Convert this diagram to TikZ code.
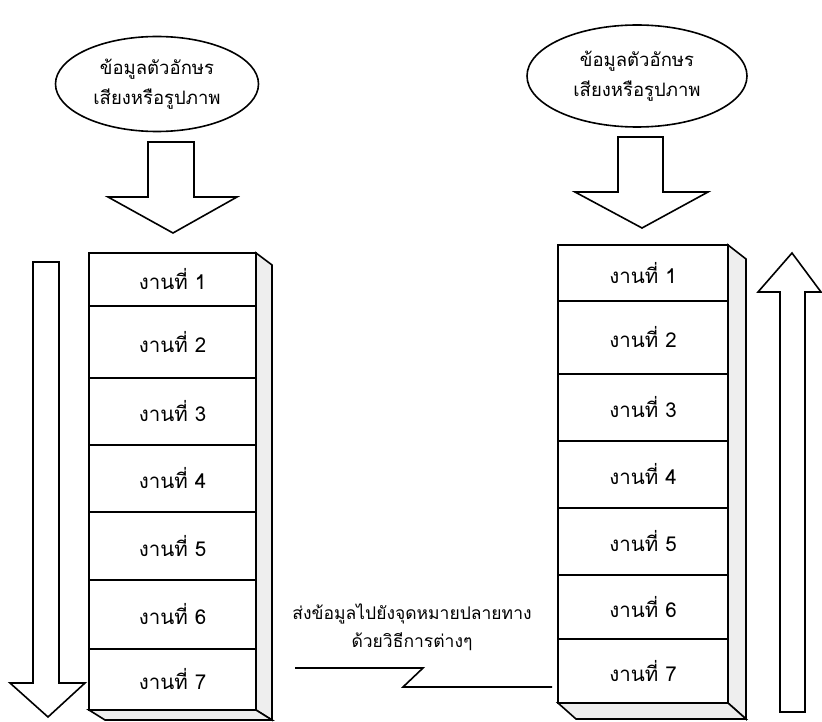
\documentclass[tikz,border=0pt]{standalone}
\usepackage{fontspec}
\newfontfamily\thaifont[Script=Thai]{Loma}
\usetikzlibrary{shapes.geometric}

\tikzset{
  outline/.style={draw=black, line width=1.6pt, line join=miter},
  bubble/.style={ellipse, outline, fill=white, align=center, inner sep=0pt,
                 font=\thaifont\fontsize{18.5}{30}\selectfont},
  cell/.style={rectangle, outline, fill=white, inner sep=0pt,
               font=\thaifont\fontsize{20.5}{22}\selectfont},
  face/.style={outline, fill=gray!13},
  blockarrow/.style={outline, fill=white},
  caption/.style={align=center, font=\thaifont\fontsize{17.5}{28}\selectfont},
  link/.style={draw=black, line width=1.6pt}
}

\begin{document}
\begin{tikzpicture}[x=1pt, y=-1pt]
  \useasboundingbox (0,0) rectangle (822,722);

  % data sources
  \node[bubble, minimum width=203pt, minimum height=95pt] (srcL) at (157,84)
    {ข้อมูลตัวอักษร\\เสียงหรือรูปภาพ};
  \node[bubble, minimum width=220pt, minimum height=102pt] (srcR) at (637,76)
    {ข้อมูลตัวอักษร\\เสียงหรือรูปภาพ};

  % block arrows feeding each stack
  \draw[blockarrow] (148,142) -- (194,142) -- (194,197) -- (237,197) -- (173,233)
    -- (108,197) -- (148,197) -- cycle;
  \draw[blockarrow] (618,137) -- (663,137) -- (663,192) -- (708,192) -- (642,228)
    -- (575,192) -- (618,192) -- cycle;

  % left stack: side and bottom faces
  \draw[face] (256,253) -- (272,265) -- (272,720) -- (256,710) -- cycle;
  \draw[face] (89,710) -- (256,710) -- (272,720) -- (105,720) -- cycle;
  % left stack: layers
  \foreach \i/\a/\b in {1/253/306, 2/306/378, 3/378/445, 4/445/512,
                        5/512/580, 6/580/649, 7/649/710} {
    \node[cell, minimum width=167pt, minimum height={\b pt - \a pt}]
      (L\i) at (172.5,{(\a+\b)/2}) {งานที่ \i};
  }

  % right stack: side and bottom faces
  \draw[face] (728,245) -- (746,259) -- (746,719) -- (728,703) -- cycle;
  \draw[face] (558,703) -- (728,703) -- (746,719) -- (576,719) -- cycle;
  % right stack: layers
  \foreach \i/\a/\b in {1/245/301, 2/301/374, 3/374/441, 4/441/508,
                        5/508/575, 6/575/639, 7/639/703} {
    \node[cell, minimum width=170pt, minimum height={\b pt - \a pt}]
      (R\i) at (643,{(\a+\b)/2}) {งานที่ \i};
  }

  % direction arrows beside the stacks
  \draw[blockarrow] (33,262) -- (59,262) -- (59,683) -- (85,683) -- (48,717)
    -- (10,683) -- (33,683) -- cycle;
  \draw[blockarrow] (780,712) -- (805,712) -- (805,292) -- (821,292) -- (792,253)
    -- (758,292) -- (780,292) -- cycle;

  % transmission link between the two stacks
  \node[caption] (send) at (412,627)
    {ส่งข้อมูลไปยังจุดหมายปลายทาง\\ด้วยวิธีการต่างๆ};
  \coordinate (txA) at (295,668);
  \coordinate (txB) at (423,668);
  \coordinate (txC) at (403,687);
  \coordinate (txD) at (552,687);
  \draw[link] (txA) -- (txB) -- (txC) -- (txD);
\end{tikzpicture}
\end{document}
